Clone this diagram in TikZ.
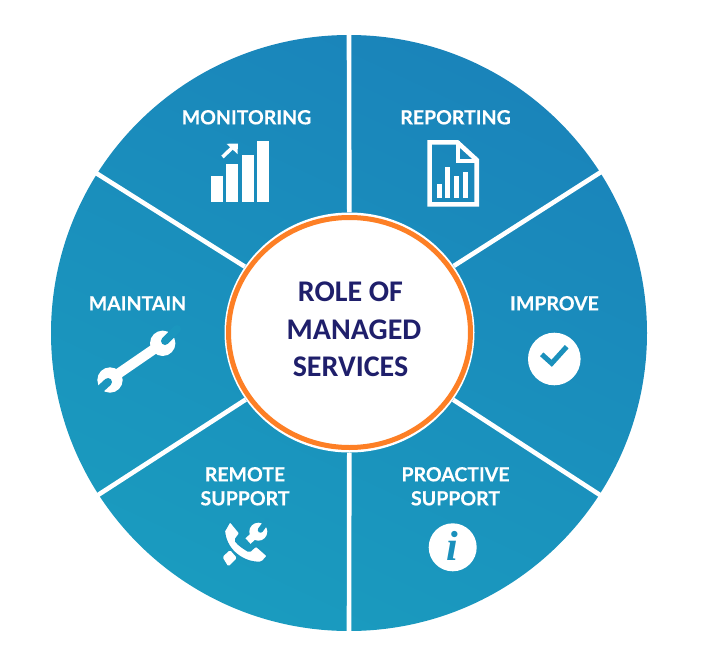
\documentclass[tikz,border=0pt]{standalone}
\usepackage{fontspec}
\usetikzlibrary{shapes.geometric}
\setmainfont{Lato}
\newfontfamily\labfont[UprightFont={* Bold},FakeBold=0.35]{Lato}
\newfontfamily\hubfont{Carlito}
\newfontfamily\infofont{Liberation Serif}
\definecolor{wheelA}{HTML}{1A83BA}
\definecolor{wheelB}{HTML}{1A9CBF}
\definecolor{wheelM}{HTML}{1A90BC}
\definecolor{wheelL}{HTML}{1A96BE}
\definecolor{ringc}{HTML}{FD7F25}
\definecolor{hubtext}{HTML}{1F1F6B}
\tikzset{
  x=1pt,y=-1pt,
  lab/.style={text=white,font=\labfont\fontsize{19.5}{24}\selectfont,inner sep=0pt,align=center},
  hubt/.style={text=hubtext,font=\hubfont\fontsize{30}{32}\selectfont\bfseries,inner sep=0pt},
  spoke/.style={draw=white,line width=4.6pt},
  ico/.style={fill=white,draw=none},
  icoline/.style={draw=white,line width=4.6pt},
}
\begin{document}
\begin{tikzpicture}
\useasboundingbox (0,0) rectangle (702,664);
\fill[white] (0,0) rectangle (702,664);
\coordinate (c) at (349,333);
% wheel
\begin{scope}
\clip (c) circle[radius=298];
\shade[bottom color=wheelB,top color=wheelA,shading angle=-25] (31,15) rectangle (667,651);
\end{scope}
% hub node and spoke ends
\node[ellipse,fill=white,draw=none,minimum width=250pt,minimum height=240pt,inner sep=0pt] (halo) at (349.5,332.5) {};
\coordinate (s1) at (349,32);
\coordinate (s2) at (601,172);
\coordinate (s3) at (600,495);
\coordinate (s4) at (349,634);
\coordinate (s5) at (98,495);
\coordinate (s6) at (96,173);
\foreach \s in {s1,s2,s3,s4,s5,s6} \draw[spoke] (halo) -- (\s);
\node[ellipse,fill=white,draw=ringc,line width=5pt,minimum width=242pt,minimum height=230pt,inner sep=0pt] (hub) at (349.5,332.5) {};
\node[hubt] (h1) at (350.5,292) {ROLE OF};
\node[hubt] (h2) at (354,329.5) {MANAGED};
\node[hubt] (h3) at (350.5,366.5) {SERVICES};
% labels
\node[lab] (monitoring) at (246.5,117.3) {MONITORING};
\node[lab] (reporting) at (455.5,117.3) {REPORTING};
\node[lab] (improve) at (554.5,303.3) {IMPROVE};
\node[lab] (maintain) at (137.5,303.3) {MAINTAIN};
\node[lab] (remote) at (245,474.3) {REMOTE};
\node[lab] (remote2) at (245,498.3) {SUPPORT};
\node[lab] (proactive) at (455.5,474.3) {PROACTIVE};
\node[lab] (proactive2) at (455.5,498.3) {SUPPORT};
% monitoring icon
\fill[ico] (211.3,176) rectangle (222.7,201.7);
\fill[ico] (226,164.3) rectangle (238,201.7);
\fill[ico] (242,154.7) rectangle (254,201.7);
\fill[ico] (257.3,141) rectangle (269,201.7);
\draw[white,line width=3.6pt] (222.5,157) -- (233,147);
\fill[ico] (226.5,143.8) -- (238,143.5) -- (237.5,154) -- cycle;
% reporting icon
\draw[icoline,line join=miter] (429.6,142.3) -- (457.3,142.3) -- (476.7,160) -- (476.7,204.4) -- (429.6,204.4) -- cycle;
\draw[white,line width=4.4pt] (457.8,141) -- (457.8,160.7) -- (478,160.7);
\fill[ico] (436.7,184.3) rectangle (441.7,198.3);
\fill[ico] (445.3,167.3) rectangle (450.3,198.3);
\fill[ico] (454.3,176) rectangle (459,198.3);
\fill[ico] (463,171.7) rectangle (467.7,198.3);
% improve icon
\fill[ico] (554.3,359) circle[radius=26.3];
\draw[wheelM,line width=5pt] (541.7,354.3) -- (551.7,363.3) -- (566.7,346.7);
% maintain icon
\draw[white,line width=10pt] (112,378) -- (160,345);
\fill[ico] (162.7,343.3) circle[radius=12.7];
\fill[ico] (110,380) circle[radius=12.7];
\draw[wheelL,line width=8pt,line cap=round] (165,341) -- (177,329);
\draw[wheelL,line width=8pt,line cap=round] (108,382) -- (96,393);
% remote support icon
\fill[ico,rounded corners=1.5pt] (222.5,557) -- (230,550) -- (237,558) -- (228.3,566.5) -- cycle;
\draw[white,line width=7.5pt] (248,541) -- (258,532);
\fill[ico] (258.3,531.7) circle[radius=9];
\draw[wheelL,line width=5.5pt,line cap=round] (260.5,530) -- (267,521);
\draw[wheelL,line width=1.6pt,fill=white,rounded corners=1.5pt] (224.3,531) -- (230,521) -- (240,533.3) -- (235,540)
  .. controls (238.3,545) and (245,549) .. (249.3,551.7) -- (256,545.7) -- (267.7,556) -- (261.7,562.3)
  .. controls (245,563.3) and (226.7,551.7) .. (224.3,531) -- cycle;
% proactive icon
\fill[ico] (452.7,547.3) circle[radius=24];
\node[text=wheelM,font=\infofont\fontsize{42}{42}\selectfont\bfseries\itshape,inner sep=0pt] (infoi) at (452.5,546) {i};
\end{tikzpicture}
\end{document}
